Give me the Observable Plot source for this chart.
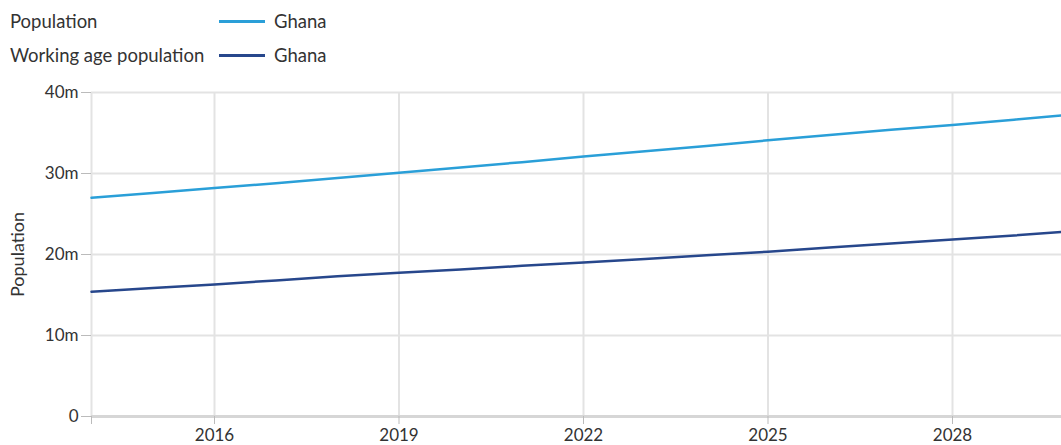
<!DOCTYPE html>
<html>
<head>
<meta charset="utf-8">
<script src="https://cdn.jsdelivr.net/npm/d3@7"></script>
<script src="https://cdn.jsdelivr.net/npm/@observablehq/plot@0.6"></script>
<style>
  html, body { margin: 0; padding: 0; overflow: hidden; background: #fff; width: 1061px; height: 445px; }
  body { font-family: Lato, "Open Sans", sans-serif; color: #333; }
  #legend { position: relative; height: 80px; font-size: 18.5px; }
  .row { position: absolute; left: 10px; height: 22px; display: flex; align-items: center; }
  .lab { width: 209px; }
  .sw { width: 46px; height: 3px; margin-right: 9px; }
  #chart svg { display: block; max-width: none !important; }
</style>
</head>
<body>
<div id="legend"></div>
<div id="chart"></div>
<script>
const years = [2014,2015,2016,2017,2018,2019,2020,2021,2022,2023,2024,2025,2026,2027,2028,2029,2030];
const population = [27.0,27.6,28.2,28.8,29.45,30.1,30.75,31.4,32.1,32.75,33.4,34.1,34.75,35.4,36.0,36.65,37.3];
const workingAge = [15.4,15.85,16.3,16.8,17.3,17.75,18.15,18.6,19.0,19.45,19.9,20.35,20.85,21.35,21.85,22.35,22.9];
const seriesNames = ["Population", "Working age population"];
const country = "Ghana";
const colors = ["#2a9fd8", "#27478c"];
const xTicks = [2016, 2019, 2022, 2025, 2028];
const yTicks = [0, 10, 20, 30, 40];

const legend = document.getElementById("legend");
seriesNames.forEach((s, i) => {
  const r = document.createElement("div");
  r.className = "row";
  r.style.top = (i === 0 ? 10 : 44) + "px";
  r.innerHTML = `<span class="lab">${s}</span><span class="sw" style="background:${colors[i]}"></span><span>${country}</span>`;
  legend.appendChild(r);
});

const data = [];
years.forEach((y, i) => {
  data.push({year: y, value: population[i], series: seriesNames[0]});
  data.push({year: y, value: workingAge[i], series: seriesNames[1]});
});

const chart = Plot.plot({
  width: 1076,
  height: 365,
  marginLeft: 91,
  marginRight: 1,
  marginTop: 12,
  marginBottom: 29,
  style: {fontFamily: "Lato, 'Open Sans', sans-serif", fontSize: "17px", color: "#333", overflow: "visible", maxWidth: "none"},
  x: {domain: [2014, 2030]},
  y: {domain: [0, 40]},
  color: {domain: seriesNames, range: colors},
  marks: [
    Plot.gridX(xTicks, {stroke: "#e3e3e3", strokeOpacity: 1, strokeWidth: 2}),
    Plot.gridY(yTicks, {stroke: "#e3e3e3", strokeOpacity: 1, strokeWidth: 2}),
    Plot.ruleX([2014], {stroke: "#e3e3e3", strokeWidth: 2}),
    Plot.ruleY([0], {stroke: "#d6d6d6", strokeWidth: 3}),
    Plot.axisX(xTicks, {tickFormat: "d", tickSize: 8, stroke: "#bbb", tickPadding: 4, label: null, fontSize: 17}),
    Plot.axisX([2014], {tickFormat: () => "", tickSize: 8, stroke: "#bbb", label: null}),
    Plot.axisY(yTicks, {tickFormat: d => d === 0 ? "0" : d + "m", tickSize: 10, stroke: "#bbb", tickPadding: 3,
      label: null, fontSize: 17}),
    Plot.text(["Population"], {frameAnchor: "left", textAnchor: "middle", dx: -73, rotate: -90, fontSize: 18, fill: "#333"}),
    Plot.line(data, {x: "year", y: "value", z: "series", stroke: "series", strokeWidth: 2.5})
  ]
});
document.getElementById("chart").appendChild(chart);
</script>
</body>
</html>
